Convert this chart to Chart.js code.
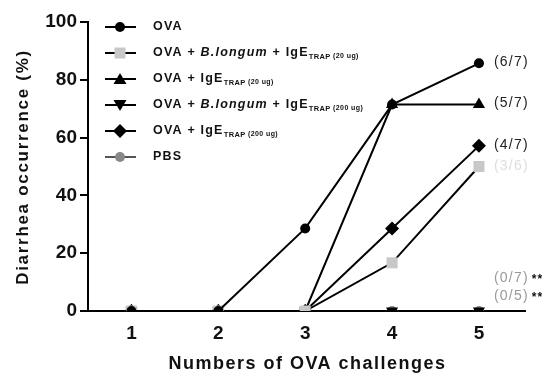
<!DOCTYPE html>
<html>
<head>
<meta charset="utf-8">
<script src="https://cdn.jsdelivr.net/npm/chart.js@4.4.0/dist/chart.umd.min.js"></script>
<style>
  html, body { margin: 0; padding: 0; background: #fff; }
  #wrap { width: 548px; height: 374px; }
</style>
</head>
<body>
<div id="wrap"><canvas id="chart" width="548" height="374"></canvas></div>
<script>
// --- DATA ---
const challenges = [1, 2, 3, 4, 5];
const ova            = [0, 0, 28.57, 71.43, 85.71];
const ovaBl20        = [0, 0, 0, 16.67, 50];
const ovaIgE20       = [0, 0, 0, 71.43, 71.43];
const ovaBl200       = [0, 0, 0, 0, 0];
const ovaIgE200      = [0, 0, 0, 28.57, 57.14];
const pbs            = [0, 0, 0, 0, 0];
const yTicks = [0, 20, 40, 60, 80, 100];
const ratioLabels = ['(6/7)', '(5/7)', '(4/7)', '(3/6)', '(0/7)', '(0/5)'];
const xTitle = 'Numbers of OVA challenges';
const yTitle = 'Diarrhea occurrence (%)';

const FONT = '"Liberation Sans", Arial, sans-serif';

const toPoints = (vals) => vals.map((v, i) => ({ x: challenges[i], y: v }));

// --- LEGEND + TEXT (custom, because of italic and subscript parts) ---
const legendRows = [
    { parts: [['OVA', 'n']], style: 'circle', color: '#000' },
    { parts: [['OVA + ', 'n'], ['B.longum', 'i'], [' + IgE', 'n'], ['TRAP', 's'], [' (20 ug)', 't']], style: 'rect', color: '#c8c8c8' },
    { parts: [['OVA + IgE', 'n'], ['TRAP', 's'], [' (20 ug)', 't']], style: 'triangle', color: '#000' },
    { parts: [['OVA + ', 'n'], ['B.longum', 'i'], [' + IgE', 'n'], ['TRAP', 's'], [' (200 ug)', 't']], style: 'down', color: '#000' },
    { parts: [['OVA + IgE', 'n'], ['TRAP', 's'], [' (200 ug)', 't']], style: 'rectRot', color: '#000' },
    { parts: [['PBS', 'n']], style: 'circle', color: '#888' }
];

function drawMarker(ctx, style, x, y, color) {
    ctx.save();
    ctx.fillStyle = color;
    ctx.beginPath();
    if (style === 'circle') {
        ctx.arc(x, y, 5, 0, Math.PI * 2);
    } else if (style === 'rect') {
        ctx.rect(x - 5.5, y - 5.5, 11, 11);
    } else if (style === 'triangle') {
        ctx.moveTo(x, y - 6); ctx.lineTo(x + 6.5, y + 5); ctx.lineTo(x - 6.5, y + 5); ctx.closePath();
    } else if (style === 'down') {
        ctx.moveTo(x, y + 6); ctx.lineTo(x + 6.5, y - 5); ctx.lineTo(x - 6.5, y - 5); ctx.closePath();
    } else if (style === 'rectRot') {
        ctx.moveTo(x, y - 7); ctx.lineTo(x + 7, y); ctx.lineTo(x, y + 7); ctx.lineTo(x - 7, y); ctx.closePath();
    }
    ctx.fill();
    ctx.restore();
}

const textPlugin = {
    id: 'textPlugin',
    afterDraw(chart) {
        const ctx = chart.ctx;
        const xs = chart.scales.x, ys = chart.scales.y;
        ctx.save();
        ctx.textBaseline = 'middle';

        // axis titles
        ctx.fillStyle = '#111';
        ctx.textAlign = 'center';
        ctx.font = 'bold 18px ' + FONT;
        ctx.letterSpacing = '1.5px';
        ctx.fillText(xTitle, (chart.chartArea.left + chart.chartArea.right) / 2 + 1, 364);
        ctx.save();
        ctx.translate(23, 167);
        ctx.rotate(-Math.PI / 2);
        ctx.font = 'bold 17px ' + FONT;
        ctx.letterSpacing = '1.7px';
        ctx.fillText(yTitle, 0, 0);
        ctx.restore();

        // legend
        ctx.textAlign = 'left';
        legendRows.forEach((row, i) => {
            const y = 27 + i * 26;
            ctx.strokeStyle = row.color === '#888' ? '#555' : '#000';
            ctx.lineWidth = 2;
            ctx.beginPath(); ctx.moveTo(105, y); ctx.lineTo(136, y); ctx.stroke();
            drawMarker(ctx, row.style, 120, y, row.color);
            let x = 153;
            ctx.fillStyle = '#111';
            row.parts.forEach(([txt, kind]) => {
                let dy = 0;
                if (kind === 'n') { ctx.font = 'bold 12.5px ' + FONT; ctx.letterSpacing = '1.2px'; }
                else if (kind === 'i') { ctx.font = 'italic bold 12.5px ' + FONT; ctx.letterSpacing = '1.2px'; }
                else if (kind === 's') { ctx.font = 'bold 7.5px ' + FONT; ctx.letterSpacing = '0.4px'; dy = 4; }
                else { ctx.font = 'bold 7px ' + FONT; ctx.letterSpacing = '0.4px'; dy = 3; }
                ctx.fillText(txt, x, y + dy);
                x += ctx.measureText(txt).width;
            });
        });

        // group ratios at the last challenge
        const lastX = xs.getPixelForValue(challenges[4]) + 15;
        const anchors = [ova[4], ovaIgE20[4], ovaIgE200[4], ovaBl20[4]];
        const colors = ['#222', '#222', '#222', '#ddd'];
        ctx.font = '14px ' + FONT;
        ctx.letterSpacing = '1.2px';
        anchors.forEach((v, i) => {
            ctx.fillStyle = colors[i];
            ctx.fillText(ratioLabels[i], lastX, ys.getPixelForValue(v) - (i === 3 ? 0 : 1));
        });
        [[ratioLabels[4], 278], [ratioLabels[5], 296]].forEach(([t, py]) => {
            ctx.font = '14px ' + FONT;
            ctx.letterSpacing = '1.2px';
            ctx.fillStyle = '#999';
            ctx.fillText(t, 494, py);
            const w = ctx.measureText(t).width;
            ctx.font = 'bold 12px ' + FONT;
            ctx.letterSpacing = '1px';
            ctx.fillStyle = '#111';
            ctx.fillText('**', 494 + w + 3, py + 2);
        });
        ctx.restore();
    }
};

function ds(label, data, style, fill, radius, rotation) {
    return {
        label: label,
        data: toPoints(data),
        borderColor: '#000',
        borderWidth: 2,
        pointStyle: style,
        pointRotation: rotation || 0,
        pointRadius: radius,
        pointBackgroundColor: fill,
        pointBorderColor: fill,
        pointBorderWidth: 0,
        tension: 0
    };
}

new Chart(document.getElementById('chart'), {
    type: 'line',
    data: {
        datasets: [
            ds('OVA', ova, 'circle', '#000', 5),
            ds('OVA + B.longum + IgE TRAP (20 ug)', ovaBl20, 'rect', '#c8c8c8', 7.8),
            ds('OVA + IgE TRAP (20 ug)', ovaIgE20, 'triangle', '#000', 7),
            ds('OVA + B.longum + IgE TRAP (200 ug)', ovaBl200, 'triangle', '#000', 7, 180),
            ds('OVA + IgE TRAP (200 ug)', ovaIgE200, 'rectRot', '#000', 7),
            ds('PBS', pbs, 'circle', '#888', 5)
        ]
    },
    options: {
        responsive: false,
        animation: false,
        layout: { padding: { left: 0, right: 23, top: 22, bottom: 0 } },
        plugins: { legend: { display: false }, tooltip: { enabled: false } },
        scales: {
            x: {
                type: 'linear',
                min: 0.5,
                max: 5.53,
                afterBuildTicks: (s) => { s.ticks = challenges.map(v => ({ value: v })); },
                afterFit: (s) => { s.height = 63; },
                grid: { display: false },
                border: { display: true, color: '#000', width: 2 },
                ticks: { color: '#111', font: { family: FONT, size: 19, weight: 'bold' }, padding: 3 }
            },
            y: {
                min: 0,
                max: 100,
                afterBuildTicks: (s) => { s.ticks = yTicks.map(v => ({ value: v })); },
                afterFit: (s) => { s.width = 88; },
                grid: { drawOnChartArea: false, drawTicks: true, tickLength: 8, color: '#000', lineWidth: 2 },
                border: { display: true, color: '#000', width: 2 },
                ticks: { color: '#111', font: { family: FONT, size: 19, weight: 'bold' }, padding: 3 }
            }
        }
    },
    plugins: [textPlugin]
});
</script>
</body>
</html>
